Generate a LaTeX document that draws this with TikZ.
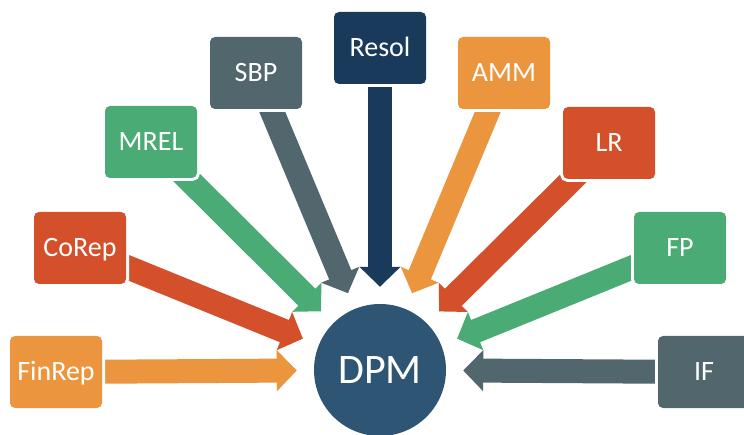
\documentclass[tikz,border=0pt]{standalone}
\usepackage{fontspec}
\setmainfont{Carlito}
\usetikzlibrary{arrows.meta,backgrounds}

\definecolor{dpmorange}{HTML}{EB953E}
\definecolor{dpmred}{HTML}{D3502A}
\definecolor{dpmgreen}{HTML}{4AAC74}
\definecolor{dpmslate}{HTML}{52666D}
\definecolor{dpmnavy}{HTML}{1A3A5B}
\definecolor{dpmblue}{HTML}{2E5574}

\begin{document}
\begin{tikzpicture}[x=1pt, y=-1pt,
    box/.style={rectangle, rounded corners=5pt, minimum width=92pt,
      minimum height=72pt, text=white, text height=18pt, text depth=0pt,
      font=\fontsize{28}{32}\selectfont,
      preaction={draw=white, line width=6pt}},
    feed/.style={line width=24pt, shorten >=17pt,
      -{Triangle[width=40pt, length=20pt]}}]
  \useasboundingbox (0,0) rectangle (744,435);

  \node[box, fill=dpmorange] (finrep) at (56,372)  {FinRep};
  \node[box, fill=dpmred]    (corep)  at (80,248)  {CoRep};
  \node[box, fill=dpmgreen]  (mrel)   at (151,142) {MREL};
  \node[box, fill=dpmslate]  (sbp)    at (256,73)  {SBP};
  \node[box, fill=dpmnavy]   (resol)  at (380,48)  {Resol};
  \node[box, fill=dpmorange] (amm)    at (504,73)  {AMM};
  \node[box, fill=dpmred]    (lr)     at (609,143) {LR};
  \node[box, fill=dpmgreen]  (fp)     at (680,248) {FP};
  \node[box, fill=dpmslate]  (if)     at (704,372) {IF};

  \node[circle, fill=dpmblue, minimum size=132pt, text=white,
    font=\fontsize{42}{48}\selectfont] (dpm) at (380,370) {DPM};

  \begin{scope}[on background layer]
    \draw[feed, dpmorange] (finrep.center) -- (dpm);
    \draw[feed, dpmred]    (corep.center)  -- (dpm);
    \draw[feed, dpmgreen]  (mrel.center)   -- (dpm);
    \draw[feed, dpmslate]  (sbp.center)    -- (dpm);
    \draw[feed, dpmnavy]   (resol.center)  -- (dpm);
    \draw[feed, dpmorange] (amm.center)    -- (dpm);
    \draw[feed, dpmred]    (lr.center)     -- (dpm);
    \draw[feed, dpmgreen]  (fp.center)     -- (dpm);
    \draw[feed, dpmslate]  (if.center)     -- (dpm);
  \end{scope}
\end{tikzpicture}
\end{document}
